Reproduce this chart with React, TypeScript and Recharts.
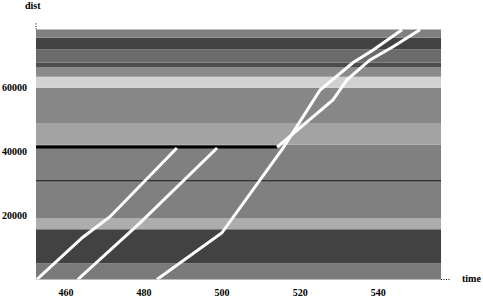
import React from "react"
import { LineChart, Line, XAxis, YAxis, ReferenceArea, ReferenceLine } from "recharts"

// axis ticks
const timeTicks = [460, 480, 500, 520, 540]
const distTicks = [20000, 40000, 60000]

// extent of the shaded track area
const timeStart = 452.3
const timeEnd = 556.1
const distTop = 78000

// horizontal shaded bands (dist edges) and their ink density in %
const bandEdges = [0, 5100, 15700, 19200, 42000, 48800, 59800, 63200, 66300, 67600, 71700, 75400, 78000]
const bandInk = [52, 74, 32, 50, 36, 47, 18, 46, 70, 58, 74, 50]

// train paths
const trainA = [
  { t: 452.5, d: 0 },
  { t: 464.3, d: 13200 },
  { t: 471.2, d: 19500 },
  { t: 488.4, d: 41000 },
]
const trainB = [
  { t: 463.0, d: 0 },
  { t: 478.9, d: 17600 },
  { t: 498.7, d: 41000 },
]
const trainC = [
  { t: 483.3, d: 0 },
  { t: 499.9, d: 14500 },
  { t: 515.6, d: 41000 },
  { t: 525.1, d: 59100 },
  { t: 533.5, d: 67600 },
  { t: 538.7, d: 71600 },
  { t: 546.1, d: 77900 },
]
const trainD = [
  { t: 514.1, d: 41300 },
  { t: 528.4, d: 56000 },
  { t: 532.0, d: 62300 },
  { t: 537.9, d: 68500 },
  { t: 543.8, d: 72600 },
  { t: 550.7, d: 77900 },
]
// standing train
const halt = [
  { t: 452.3, d: 41300 },
  { t: 514.1, d: 41300 },
]
const sidingDist = 30800

const labelFont = "'Liberation Serif', 'DejaVu Serif', serif"

const shade = (ink: number) => {
  const v = Math.round(255 * (1 - ink / 100))
  return `rgb(${v},${v},${v})`
}

const TimeTick = (props: any) => (
  <text x={props.x} y={296} textAnchor="middle" fontSize={10} fontWeight="bold" fontFamily={labelFont} fill="#000">
    {props.payload.value}
  </text>
)

const DistTick = (props: any) => (
  <text x={27} y={props.y + 3.5} textAnchor="end" fontSize={10} fontWeight="bold" fontFamily={labelFont} fill="#000">
    {props.payload.value}
  </text>
)

export default function App() {
  return (
    <div style={{ position: "relative", width: 483, height: 299, background: "#fff" }}>
      <style>{"body{margin:0}"}</style>
      <LineChart width={483} height={299} margin={{ top: 23, right: 33, left: 0, bottom: 0 }}>
        <XAxis
          type="number"
          dataKey="t"
          domain={[timeStart, 558.4]}
          ticks={timeTicks}
          tick={<TimeTick />}
          tickLine={false}
          axisLine={false}
          height={19.5}
          allowDataOverflow
        />
        <YAxis
          type="number"
          dataKey="d"
          domain={[0, 80000]}
          ticks={distTicks}
          tick={<DistTick />}
          tickLine={false}
          axisLine={false}
          width={36}
          allowDataOverflow
        />
        {bandInk.map((ink, i) => (
          <ReferenceArea
            key={i}
            x1={timeStart}
            x2={timeEnd}
            y1={bandEdges[i]}
            y2={bandEdges[i + 1]}
            fill={shade(ink)}
            fillOpacity={1}
            stroke="none"
          />
        ))}
        <ReferenceLine
          segment={[{ x: timeStart, y: sidingDist }, { x: timeEnd, y: sidingDist }]}
          stroke="#1a1a1a"
          strokeWidth={1}
        />
        <ReferenceLine
          segment={[{ x: timeEnd, y: 0 }, { x: 558.4, y: 0 }]}
          stroke="#000"
          strokeDasharray="1 1.5"
        />
        <ReferenceLine
          segment={[{ x: timeStart, y: distTop }, { x: timeStart, y: 80000 }]}
          stroke="#000"
          strokeDasharray="1 1.5"
        />
        <Line data={halt} dataKey="d" stroke="#000" strokeWidth={3} dot={false} isAnimationActive={false} />
        <Line data={trainA} dataKey="d" stroke="#fff" strokeWidth={3} dot={false} isAnimationActive={false} />
        <Line data={trainB} dataKey="d" stroke="#fff" strokeWidth={3} dot={false} isAnimationActive={false} />
        <Line data={trainC} dataKey="d" stroke="#fff" strokeWidth={3} dot={false} isAnimationActive={false} />
        <Line data={trainD} dataKey="d" stroke="#fff" strokeWidth={3} dot={false} isAnimationActive={false} />
      </LineChart>
      <span style={{ position: "absolute", left: 25, top: 0, fontSize: 10, fontWeight: "bold", fontFamily: labelFont }}>dist</span>
      <span style={{ position: "absolute", left: 462, top: 273, fontSize: 10, fontWeight: "bold", fontFamily: labelFont }}>time</span>
    </div>
  )
}
